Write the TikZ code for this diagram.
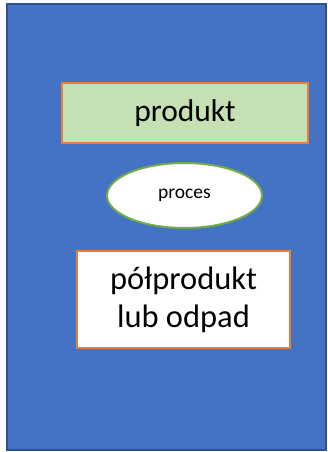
\documentclass[tikz,border=0pt]{standalone}
\usepackage{fontspec}
\setmainfont{Carlito}
\usetikzlibrary{shapes.geometric,positioning}
\definecolor{sheetblue}{HTML}{4472C4}
\definecolor{sheetedge}{HTML}{2F528F}
\definecolor{boxorange}{HTML}{ED7D31}
\definecolor{boxgreen}{HTML}{C5E0B4}
\definecolor{ovalgreen}{HTML}{70AD47}
\tikzset{
    %Define style for the background sheet
    sheet/.style={
           rectangle,
           draw=sheetedge, line width=1.5pt,
           fill=sheetblue,
           minimum width=319pt,
           minimum height=446pt},
    %Define style for boxes
    product/.style={
           rectangle,
           draw=boxorange, line width=2pt,
           fill=boxgreen,
           minimum width=246pt,
           minimum height=60pt,
           font=\fontsize{31.5}{38}\selectfont,
           text centered},
    waste/.style={
           rectangle,
           draw=boxorange, line width=2pt,
           fill=white,
           minimum width=213pt,
           minimum height=97pt,
           align=center,
           font=\fontsize{32.5}{38}\selectfont},
    % Define style for the oval
    process/.style={
           ellipse,
           draw=ovalgreen, line width=2pt,
           fill=white,
           inner sep=0pt,
           minimum width=155pt,
           minimum height=65pt,
           font=\fontsize{19.5}{24}\selectfont,
           text centered}
}
\begin{document}
\begin{tikzpicture}
\useasboundingbox (0,0) rectangle (328pt,-452pt);
 %nodes
\node[sheet](sheet) at (166.5pt,-227pt){};
\node[product](prod) at (185pt,-113pt){produkt};
\node[process](proc) at (184.5pt,-195.5pt){proces};
\node[waste](half) at (183.5pt,-299.5pt){półprodukt\\lub odpad};
\end{tikzpicture}
\end{document}
